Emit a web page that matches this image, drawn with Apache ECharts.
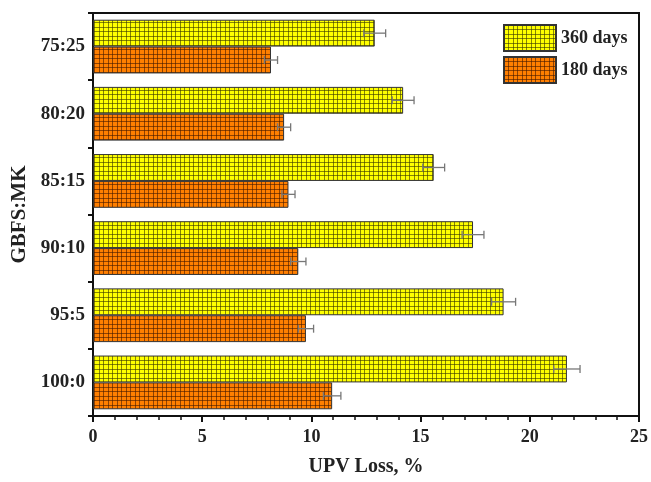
<!DOCTYPE html>
<html>
<head>
<meta charset="utf-8">
<title>UPV Loss</title>
<script src="https://cdn.jsdelivr.net/npm/echarts@6/dist/echarts.min.js"></script>
<style>
  html, body { margin: 0; padding: 0; background: #fff; }
  #chart { width: 651px; height: 482px; }
</style>
</head>
<body>
<div id="chart"></div>
<script>
// categories, bottom to top
const categories = ['100:0', '95:5', '90:10', '85:15', '80:20', '75:25']
const seriesNames = ['360 days', '180 days']
const loss360 = [21.7, 18.8, 17.4, 15.6, 14.2, 12.9]
const err360 = [0.6, 0.55, 0.5, 0.5, 0.5, 0.5]
const loss180 = [10.95, 9.75, 9.4, 8.95, 8.75, 8.15]
const err180 = [0.4, 0.35, 0.35, 0.3, 0.3, 0.3]
const xTicks = [0, 5, 10, 15, 20, 25]

const FONT = 'Liberation Serif'

// grid hatch fill like the original figure
function hatch(fill, line) {
  const c = document.createElement('canvas')
  c.width = 9
  c.height = 9
  const ctx = c.getContext('2d')
  ctx.fillStyle = fill
  ctx.fillRect(0, 0, 9, 9)
  ctx.fillStyle = line
  ctx.fillRect(0, 0, 9, 1)
  ctx.fillRect(0, 4, 9, 1)
  ctx.fillRect(0, 0, 1, 9)
  ctx.fillRect(4, 0, 1, 9)
  return { image: c, repeat: 'repeat' }
}

const yellowFill = hatch('#ffff00', 'rgba(60,60,0,0.62)')
const orangeFill = hatch('#ff7f00', 'rgba(70,25,0,0.6)')

// error bars, offset = position of the bar centre inside the band (fraction of band)
function errorSeries(values, errs, offset) {
  return {
    type: 'custom',
    z: 10,
    silent: true,
    encode: { x: 0, y: 1 },
    data: values.map((v, i) => [v, i, errs[i]]),
    renderItem: (params, api) => {
      const v = api.value(0)
      const i = api.value(1)
      const e = api.value(2)
      const band = api.size([0, 1])[1]
      const lo = api.coord([v - e, i])
      const hi = api.coord([v + e, i])
      const y = lo[1] + offset * band
      const cap = 4
      const style = { stroke: '#777', lineWidth: 1.3 }
      return {
        type: 'group',
        children: [
          { type: 'line', shape: { x1: lo[0], y1: y, x2: hi[0], y2: y }, style },
          { type: 'line', shape: { x1: lo[0], y1: y - cap, x2: lo[0], y2: y + cap }, style },
          { type: 'line', shape: { x1: hi[0], y1: y - cap, x2: hi[0], y2: y + cap }, style },
        ],
      }
    },
  }
}

const chart = echarts.init(document.getElementById('chart'))
chart.setOption({
  animation: false,
  grid: {
    left: 93,
    right: 10,
    top: 13,
    bottom: 66,
    show: true,
    borderColor: '#111',
    borderWidth: 2,
  },
  legend: {
    orient: 'vertical',
    left: 498,
    top: 19,
    itemWidth: 52,
    itemHeight: 26,
    itemGap: 4,
    icon: 'rect',
    textStyle: { fontFamily: FONT, fontWeight: 'bold', fontSize: 18, color: '#222' },
    data: seriesNames,
  },
  xAxis: {
    type: 'value',
    min: 0,
    max: 25,
    interval: 5,
    name: 'UPV Loss, %',
    nameLocation: 'middle',
    nameGap: 41,
    nameTextStyle: { fontFamily: FONT, fontWeight: 'bold', fontSize: 20, color: '#222' },
    axisLine: { show: true, lineStyle: { color: '#111', width: 2 } },
    axisTick: { show: true, length: 6, lineStyle: { color: '#111', width: 2 } },
    minorTick: { show: true, splitNumber: 5, length: 4, lineStyle: { color: '#111', width: 1.5 } },
    splitLine: { show: false },
    axisLabel: {
      margin: 12,
      fontFamily: FONT,
      fontWeight: 'bold',
      fontSize: 18,
      color: '#222',
      formatter: v => (xTicks.includes(v) ? String(v) : ''),
    },
  },
  yAxis: {
    type: 'category',
    data: categories,
    name: 'GBFS:MK',
    nameLocation: 'middle',
    nameGap: 60,
    nameTextStyle: { fontFamily: FONT, fontWeight: 'bold', fontSize: 21, color: '#222' },
    axisLine: { show: true, lineStyle: { color: '#111', width: 2 } },
    axisTick: { show: true, length: 5, lineStyle: { color: '#111', width: 2 } },
    axisLabel: { margin: 8, fontFamily: FONT, fontWeight: 'bold', fontSize: 19, color: '#222' },
  },
  series: [
    {
      name: seriesNames[0],
      type: 'bar',
      data: loss360,
      barCategoryGap: '20%',
      barGap: '0%',
      itemStyle: { color: yellowFill, borderColor: '#333', borderWidth: 1 },
    },
    {
      name: seriesNames[1],
      type: 'bar',
      data: loss180,
      barCategoryGap: '20%',
      barGap: '0%',
      itemStyle: { color: orangeFill, borderColor: '#333', borderWidth: 1 },
    },
    errorSeries(loss360, err360, -0.2),
    errorSeries(loss180, err180, 0.2),
  ],
})
</script>
</body>
</html>
